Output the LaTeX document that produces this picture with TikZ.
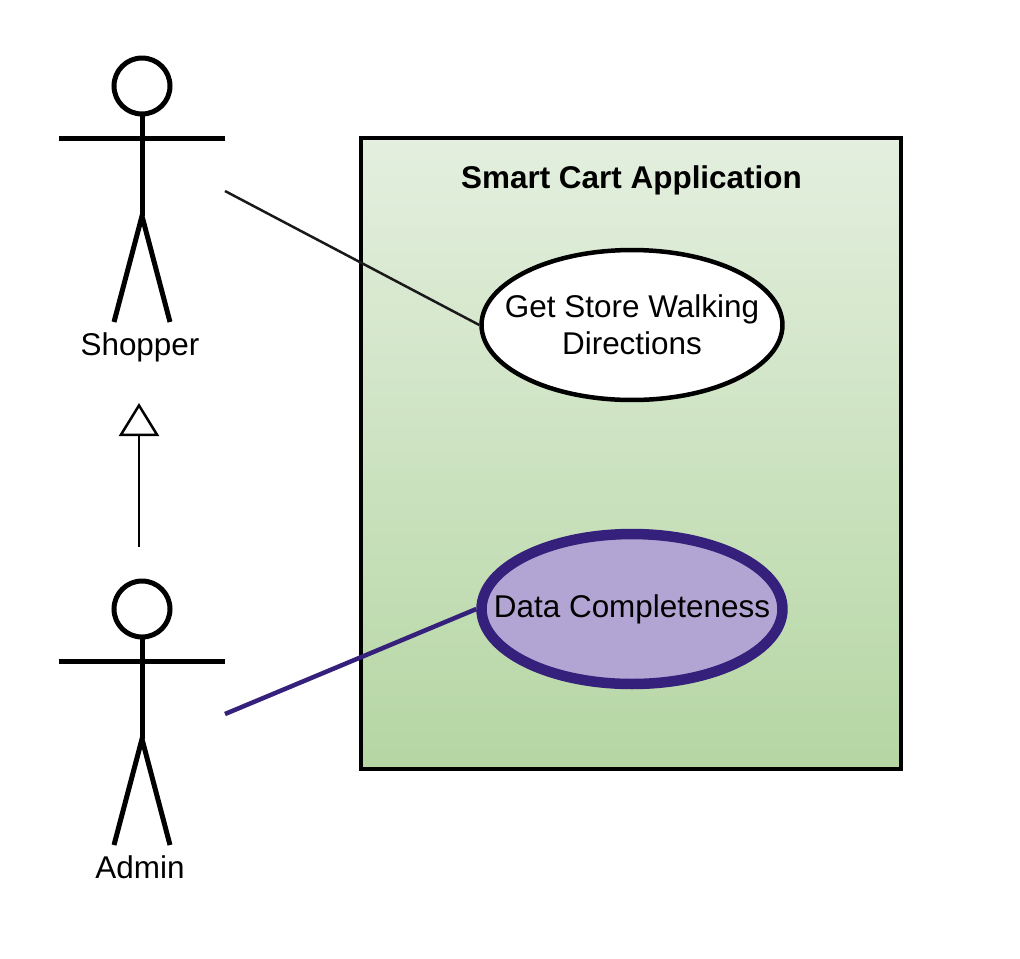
\documentclass[tikz,border=0pt]{standalone}
\usepackage{fontspec}
\setmainfont{Liberation Sans}
\usetikzlibrary{arrows.meta, shapes.geometric}
\definecolor{cartTop}{HTML}{E4EFDF}
\definecolor{cartBottom}{HTML}{B5D6A3}
\definecolor{adminLine}{HTML}{35207B}
\definecolor{adminFill}{HTML}{B3A5D3}

\begin{document}
\begin{tikzpicture}[
        x=0.02cm, y=-0.02cm,  % 1 unit is one pixel of the layout
        every node/.style={font=\fontsize{17.9}{21}\selectfont, align=center},
        actorname/.style={inner sep=0pt},
        appbox/.style={rectangle, draw=black, line width=0.095cm, top color=cartTop, bottom color=cartBottom, minimum width=10.8cm, minimum height=12.62cm},
        usecase/.style={ellipse, draw=black, line width=0.09cm, fill=white, inner sep=-0.8cm, minimum width=6.02cm, minimum height=3cm}, % text may not widen the ellipse
        admincase/.style={usecase, draw=adminLine, fill=adminFill, line width=0.21cm, minimum width=6.02cm, minimum height=3cm},
        stickman/.pic={
            \coordinate (-hand) at (83,105);
            \draw[line width=0.1cm] (0,0) circle (28);
            \draw[line width=0.1cm] (0,28) -- (0,130);
            \draw[line width=0.1cm] (-83,52) -- (83,52);
            \draw[line width=0.1cm, line join=miter] (-28,236) -- (0,130) -- (28,236);
        }
    ]
    \useasboundingbox (0,0) rectangle (1020,958);

    % system boundary
    \node[appbox] (cart) at (631,453.5) {};
    \node[font=\fontsize{17.9}{21}\selectfont\bfseries] (title) at (631.5,180) {Smart Cart Application};
    \node[usecase] (walking) at (632,325) {Get Store Walking\\Directions};
    \node[admincase] (complete) at (632,609) {\raisebox{-0.08cm}{Data Completeness}};

    % actors
    \pic (shopper) at (142,86) {stickman};
    \pic (admin) at (142,609) {stickman};
    \node[actorname] (shoppername) at (140,347) {Shopper};
    \node[actorname] (adminname) at (140,867) {Admin};

    % connectors
    \coordinate (inheritfrom) at (139,547);
    \coordinate (inheritto) at (139,403);
    \draw[line width=0.05cm, -{Triangle[open, length=0.66cm, width=0.8cm]}] (inheritfrom) -- (inheritto);
    \draw[line width=0.05cm, black!90] (shopper-hand) -- (walking.west);
    \draw[line width=0.09cm, adminLine] (admin-hand) -- (complete.west);
\end{tikzpicture}
\end{document}
